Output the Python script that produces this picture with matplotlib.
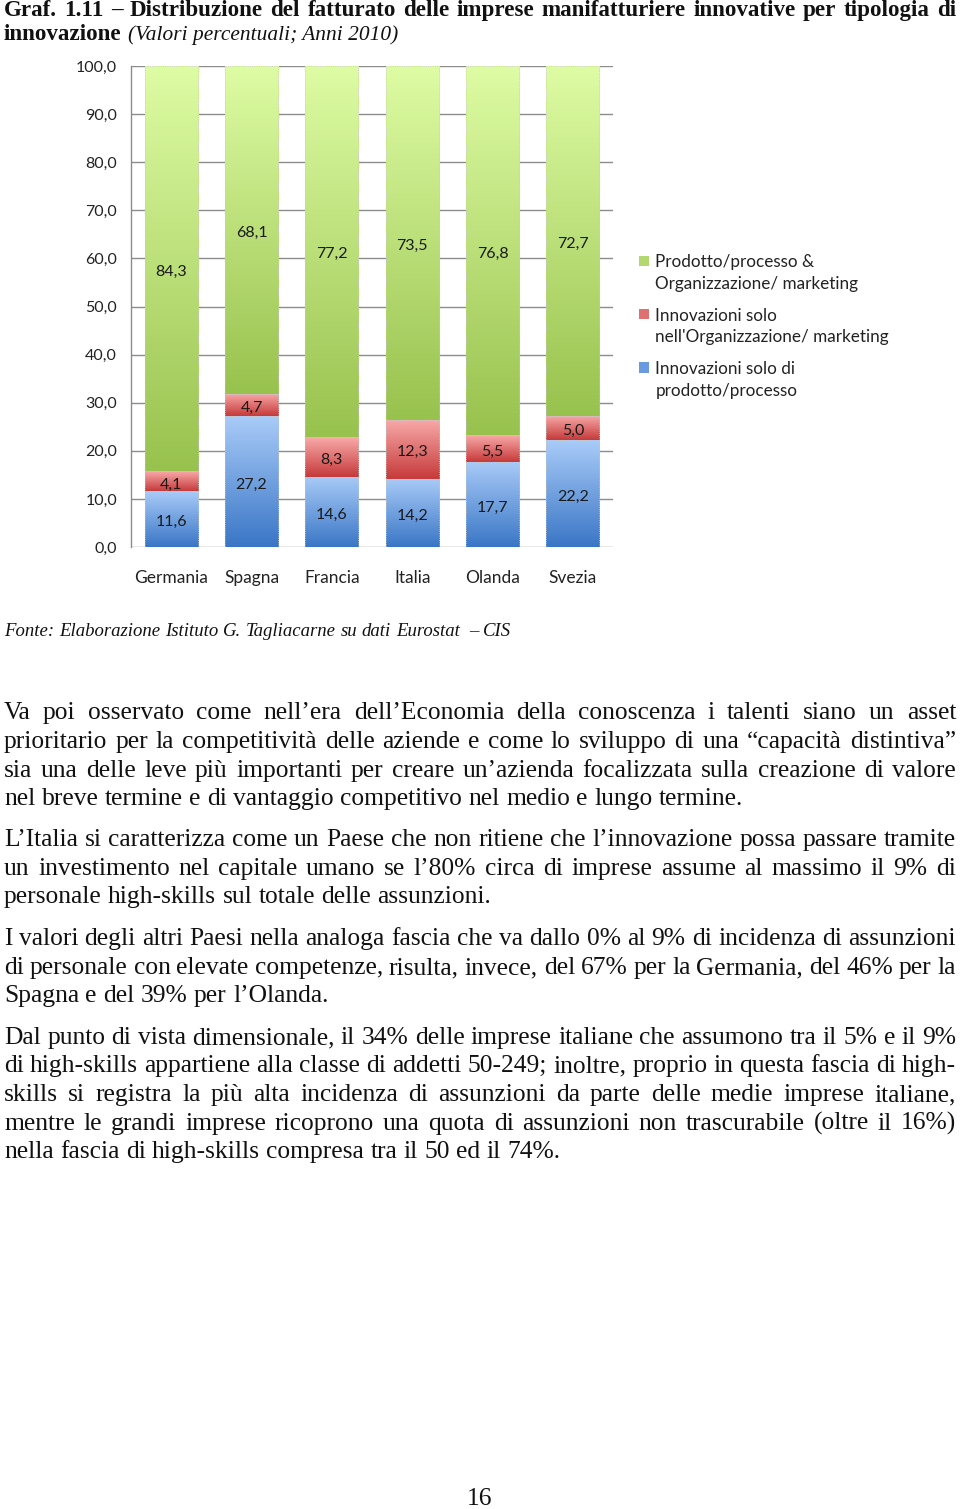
import numpy as np
import matplotlib
matplotlib.use("Agg")
import matplotlib.pyplot as plt
from matplotlib.colors import to_rgb
from matplotlib.patches import Patch, Rectangle
from matplotlib.legend_handler import HandlerPatch

# ---------------- data ----------------
countries = ["Germania", "Spagna", "Francia", "Italia", "Olanda", "Svezia"]
solo_prodotto = [11.6, 27.2, 14.6, 14.2, 17.7, 22.2]
solo_organizzazione = [4.1, 4.7, 8.3, 12.3, 5.5, 5.0]
prodotto_e_organizzazione = [84.3, 68.1, 77.2, 73.5, 76.8, 72.7]
yticks = [0, 10, 20, 30, 40, 50, 60, 70, 80, 90, 100]
series_labels = ["Prodotto/processo &\nOrganizzazione/ marketing",
                 "Innovazioni solo\nnell'Organizzazione/ marketing",
                 "Innovazioni solo di\nprodotto/processo"]

title_line1 = "Graf. 1.11 – Distribuzione del fatturato delle imprese manifatturiere innovative per tipologia di"
title_bold2 = "innovazione"
title_ital2 = "(Valori percentuali; Anni 2010)"
fonte = "Fonte: Elaborazione Istituto G. Tagliacarne su dati Eurostat  – CIS"

paragraphs = [
    ["Va poi osservato come nell’era dell’Economia della conoscenza i talenti siano un asset",
     "prioritario per la competitività delle aziende e come lo sviluppo di una “capacità distintiva”",
     "sia una delle leve più importanti per creare un’azienda focalizzata sulla creazione di valore",
     "nel breve termine e di vantaggio competitivo nel medio e lungo termine."],
    ["L’Italia si caratterizza come un Paese che non ritiene che l’innovazione possa passare tramite",
     "un investimento nel capitale umano se l’80% circa di imprese assume al massimo il 9% di",
     "personale high-skills sul totale delle assunzioni."],
    ["I valori degli altri Paesi nella analoga fascia che va dallo 0% al 9% di incidenza di assunzioni",
     "di personale con elevate competenze, risulta, invece, del 67% per la Germania, del 46% per la",
     "Spagna e del 39% per l’Olanda."],
    ["Dal punto di vista dimensionale, il 34% delle imprese italiane che assumono tra il 5% e il 9%",
     "di high-skills appartiene alla classe di addetti 50-249; inoltre, proprio in questa fascia di high-",
     "skills si registra la più alta incidenza di assunzioni da parte delle medie imprese italiane,",
     "mentre le grandi imprese ricoprono una quota di assunzioni non trascurabile (oltre il 16%)",
     "nella fascia di high-skills compresa tra il 50 ed il 74%."],
]
para_baselines = [[719, 748, 777, 805], [846, 875, 903], [945, 974, 1002],
                  [1044, 1072, 1101, 1130, 1158]]
page_number = "16"

# ---------------- figure ----------------
W, H = 960, 1509
fig = plt.figure(figsize=(W / 100, H / 100), dpi=100)
renderer = fig.canvas.get_renderer()
SERIF = ["Liberation Serif", "DejaVu Serif"]
SANS = ["Lato", "DejaVu Sans"]


def fy(y):
    return 1 - y / H


def text_width(s, size, **kw):
    t = fig.text(0, 0, s, fontsize=size, family=SERIF, **kw)
    w = t.get_window_extent(renderer).width
    t.remove()
    return w


def fit_size(s, target, **kw):
    return 10 * target / text_width(s, 10, **kw)


def place_line(line, y, size, justify=True, x0=4, x1=956, **kw):
    words = line.split(" ")
    texts, widths = [], []
    for w in words:
        t = fig.text(0, fy(y), w, fontsize=size, family=SERIF, va="baseline",
                     ha="left", color="#111111", **kw)
        widths.append(t.get_window_extent(renderer).width)
        texts.append(t)
    space = text_width("a a", size, **kw) - text_width("aa", size, **kw)
    gap = (x1 - x0 - sum(widths)) / (len(words) - 1) if (justify and len(words) > 1) else space
    x = x0
    for t, w in zip(texts, widths):
        t.set_x(x / W)
        x += w + gap
    return x


body_size = fit_size(paragraphs[0][-1], 739)
bold_size = fit_size(title_bold2, 118, weight="bold")
ital_size = fit_size(fonte, 509, style="italic")
title_ital_size = fit_size(title_ital2, 270, style="italic")

# title
place_line(title_line1, 16, bold_size, weight="bold")
fig.text(4 / W, fy(40), title_bold2, fontsize=bold_size, family=SERIF, weight="bold",
         va="baseline", ha="left", color="#111111")
fig.text(128 / W, fy(40), title_ital2, fontsize=title_ital_size, family=SERIF, style="italic",
         va="baseline", ha="left", color="#111111")

# source
place_line(fonte, 636, ital_size, justify=False, style="italic")

# body
for para, ys in zip(paragraphs, para_baselines):
    for i, (line, y) in enumerate(zip(para, ys)):
        place_line(line, y, body_size, justify=(i < len(para) - 1))

fig.text(480 / W, fy(1505), page_number, fontsize=body_size, family=SERIF,
         ha="center", va="baseline", color="#111111")

# ---------------- chart ----------------
ax_l, ax_r, ax_t, ax_b = 131, 613, 66, 547
ax = fig.add_axes([ax_l / W, 1 - ax_b / H, (ax_r - ax_l) / W, (ax_b - ax_t) / H])

x = np.arange(len(countries))
bw = 0.66
blue = ax.bar(x, solo_prodotto, bw, label=series_labels[2])
red = ax.bar(x, solo_organizzazione, bw, bottom=solo_prodotto, label=series_labels[1])
bottom_g = np.array(solo_prodotto) + np.array(solo_organizzazione)
green = ax.bar(x, prodotto_e_organizzazione, bw, bottom=bottom_g, label=series_labels[0])

grads = {
    "blue": ("#a9cbf8", "#3a76c6"),
    "red": ("#f9aaaa", "#c63a3a"),
    "green": ("#defca4", "#98c24e"),
}


def grad_fill(patch, c_top, c_bot):
    x0, y0 = patch.get_x(), patch.get_y()
    w, h = patch.get_width(), patch.get_height()
    n = 128
    t = np.linspace(0, 1, n)[:, None, None]
    img = np.array(to_rgb(c_top))[None, None, :] * (1 - t) + np.array(to_rgb(c_bot))[None, None, :] * t
    im = ax.imshow(img, extent=(x0, x0 + w, y0, y0 + h), origin="upper",
                   aspect="auto", zorder=2, interpolation="bilinear")
    im.set_clip_path(patch)
    patch.set_facecolor("none")
    patch.set_edgecolor("#c8c8c8")
    patch.set_linewidth(0.6)
    patch.set_linestyle(":")
    patch.set_zorder(3)


for cont, key in ((blue, "blue"), (red, "red"), (green, "green")):
    for p in cont.patches:
        grad_fill(p, *grads[key])


def fmt(v):
    return f"{v:.1f}".replace(".", ",")


for cont in (blue, red, green):
    for p in cont.patches:
        cx = p.get_x() + p.get_width() / 2
        cy = p.get_y() + p.get_height() / 2
        ax.annotate(fmt(p.get_height()), (cx, cy), xytext=(0, -2.2), textcoords="offset points",
                    ha="center", va="center", fontsize=11.5, family=SANS,
                    color="#1a1a1a", zorder=5)

ax.set_xlim(-0.5, len(countries) - 0.5)
ax.set_ylim(0, 100)
ax.set_yticks(yticks)
ax.set_yticklabels([fmt(v) for v in yticks], family=SANS, fontsize=11.5, color="#222222")
ax.set_xticks(x)
ax.set_xticklabels(countries, family=SANS, fontsize=12.5, color="#222222")
ax.tick_params(axis="y", length=0, pad=10)
ax.tick_params(axis="x", length=0, pad=16.5)
ax.grid(axis="y", color="#8c8c8c", linewidth=1.0, zorder=0)
ax.set_axisbelow(True)
for s in ("top", "right", "bottom"):
    ax.spines[s].set_visible(False)
ax.spines["left"].set_color("#8c8c8c")
ax.spines["left"].set_linewidth(1.0)


# legend: small squares aligned with the first line of each label
class FirstLineHandler(HandlerPatch):
    def create_artists(self, legend, orig_handle, xdescent, ydescent, width, height, fontsize, trans):
        size = 0.6 * fontsize
        r = Rectangle((-xdescent + (width - size) / 2, -ydescent + 0.8 * fontsize),
                      size, size, facecolor=orig_handle.get_facecolor(), edgecolor="none",
                      transform=trans)
        return [r]


handles = [Patch(facecolor="#b3d870"), Patch(facecolor="#e07070"), Patch(facecolor="#6a9ae0")]
leg = fig.legend(handles, series_labels, loc="upper left",
                 bbox_to_anchor=(622 / W, fy(239)), frameon=False,
                 prop={"family": SANS, "size": 12.3},
                 handlelength=0.75, handletextpad=0.3, labelspacing=0.93,
                 handler_map={Patch: FirstLineHandler()})
for t in leg.get_texts():
    t.set_linespacing(1.42)
    t.set_color("#222222")

fig.savefig("out.png", dpi=100)
